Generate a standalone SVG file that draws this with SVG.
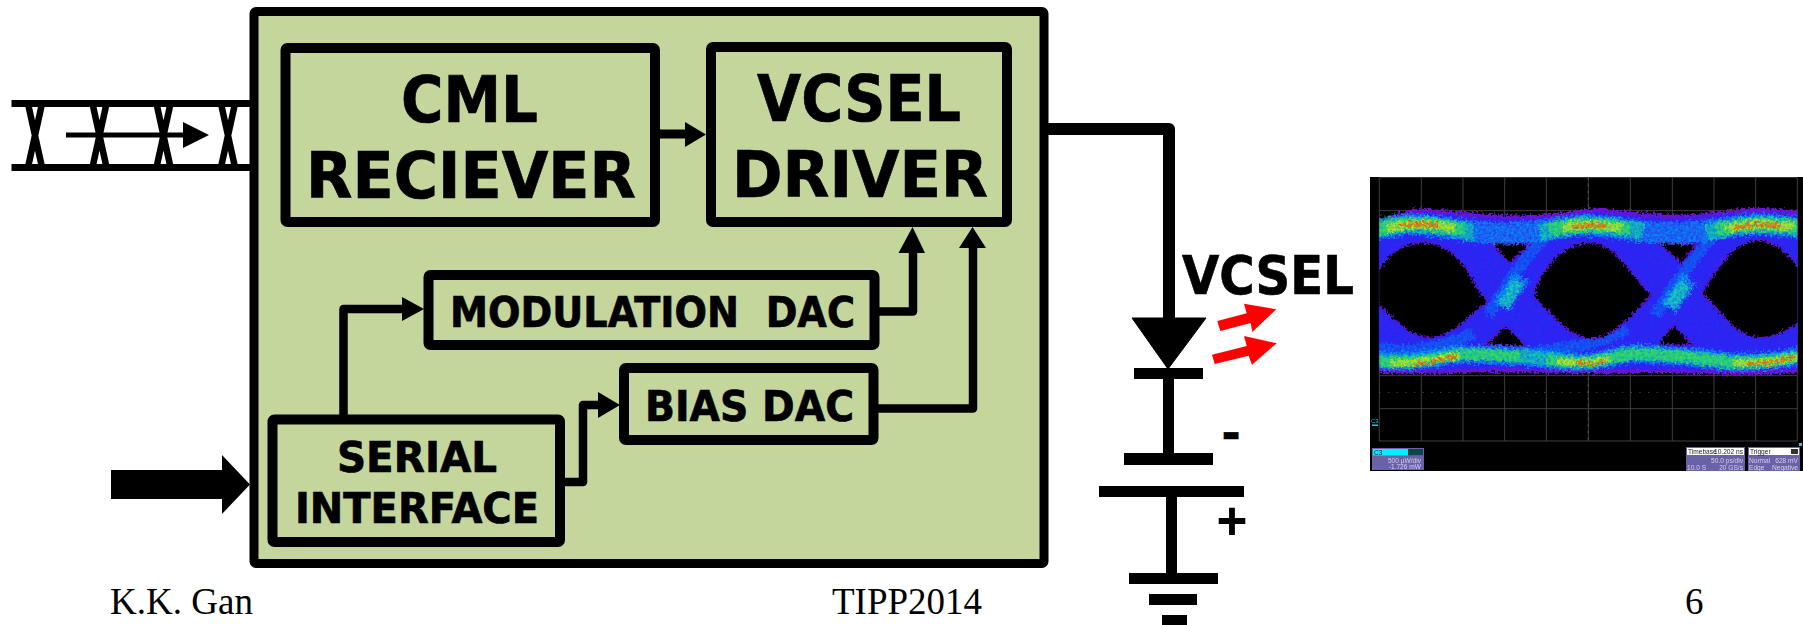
<svg xmlns="http://www.w3.org/2000/svg" width="1803" height="625" viewBox="0 0 1803 625">
<style>
.box{fill:#c4d69c;stroke:#000;stroke-linejoin:round}
.in{fill:none;stroke:#000;stroke-linejoin:round}
.lab{font-family:"DejaVu Sans",Verdana,sans-serif;font-weight:700;fill:#000;stroke:#000;stroke-width:.7px;white-space:pre}
.foot{font-family:"Liberation Serif","Times New Roman",serif;font-size:37px;fill:#000}
.bk{fill:#000}
.grid{stroke:#3e3e3e;fill:none}
.sc{font-family:"Liberation Sans",Arial,sans-serif;font-size:6.6px;fill:#d4d0ee}
.scd{font-family:"Liberation Sans",Arial,sans-serif;font-size:6.6px;fill:#222}
.panel{fill:#6a62a6}
.band{fill:none}
</style>
<defs>
<filter id="sp1" filterUnits="userSpaceOnUse" x="0" y="0" width="1400" height="700" color-interpolation-filters="sRGB">
<feTurbulence type="fractalNoise" baseFrequency=".11" numOctaves="2" seed="4" result="n"/>
<feDisplacementMap in="SourceGraphic" in2="n" scale="34" xChannelSelector="R" yChannelSelector="G" result="d"/>
<feColorMatrix in="n" type="matrix" values="0 0 0 0 0 0 0 0 0 0 0 0 0 0 0 0 0 0 0 0 12 0 0 0 -5.2" result="m"/>
<feComposite in="d" in2="m" operator="in"/>
<feGaussianBlur stdDeviation="1.8"/>
</filter>
<filter id="sp2" filterUnits="userSpaceOnUse" x="0" y="0" width="1400" height="700" color-interpolation-filters="sRGB">
<feTurbulence type="fractalNoise" baseFrequency=".13" numOctaves="2" seed="17" result="n"/>
<feDisplacementMap in="SourceGraphic" in2="n" scale="34" xChannelSelector="G" yChannelSelector="R" result="d"/>
<feColorMatrix in="n" type="matrix" values="0 0 0 0 0 0 0 0 0 0 0 0 0 0 0 0 0 0 0 0 12 0 0 0 -5.4" result="m"/>
<feComposite in="d" in2="m" operator="in"/>
<feGaussianBlur stdDeviation="1.8"/>
</filter>
<filter id="sp3" filterUnits="userSpaceOnUse" x="0" y="0" width="1400" height="700" color-interpolation-filters="sRGB">
<feTurbulence type="fractalNoise" baseFrequency=".12" numOctaves="2" seed="31" result="n"/>
<feDisplacementMap in="SourceGraphic" in2="n" scale="30" xChannelSelector="R" yChannelSelector="B" result="d"/>
<feColorMatrix in="n" type="matrix" values="0 0 0 0 0 0 0 0 0 0 0 0 0 0 0 0 0 0 0 0 12 0 0 0 -5.6" result="m"/>
<feComposite in="d" in2="m" operator="in"/>
<feGaussianBlur stdDeviation="1.8"/>
</filter>
<filter id="rough" filterUnits="userSpaceOnUse" x="0" y="0" width="1400" height="700" color-interpolation-filters="sRGB">
<feTurbulence type="fractalNoise" baseFrequency=".14" numOctaves="2" seed="9" result="n"/>
<feDisplacementMap in="SourceGraphic" in2="n" scale="26" xChannelSelector="R" yChannelSelector="G"/>
<feGaussianBlur stdDeviation="1.6"/>
</filter>
<filter id="soft" x="-5%" y="-5%" width="110%" height="110%"><feGaussianBlur stdDeviation=".45"/></filter>
<clipPath id="eyeclip"><rect x="58" y="38" width="1254" height="790"/></clipPath>
</defs>

<g id="data-input">
<path class="bk" d="M11.500 100H250V107H11.500ZM11.500 164H250V171H11.500Z"/>
<path class="in" stroke-width="6.500" d="M28.500 106L41.500 165M41.500 106L28.500 165M93 106L106 165M106 106L93 165M157 106L170 165M170 106L157 165M221.500 106L234.500 165M234.500 106L221.500 165"/>
<path class="bk" d="M66 132.500H183V122L209 135L183 148V137.500H66Z"/>
</g>

<g id="serial-input"><path class="bk" d="M111 470H222V455L250 484.500L222 514V499H111Z"/></g>

<g id="chip"><rect class="box" x="254" y="11.500" width="790" height="552" rx="2" stroke-width="9"/></g>

<g id="connectors">
<path class="in" stroke-width="9" d="M660 134H688"/><path class="bk" d="M685 122L706 134.500L685 147Z"/>
<path class="in" stroke-width="8.500" d="M343.500 416V309H404"/><path class="bk" d="M402 297L424 309L402 321Z"/>
<path class="in" stroke-width="8.500" d="M565 482H583V405H600"/><path class="bk" d="M598 392L620 405L598 418Z"/>
<path class="in" stroke-width="8.500" d="M879 311.500H913V250"/><path class="bk" d="M898.500 253L912.500 227L925 253Z"/>
<path class="in" stroke-width="8.500" d="M878 408.500H973V245"/><path class="bk" d="M959 248L972.500 227L986 248Z"/>
<path class="in" stroke-width="12" d="M1048 129H1169V320"/>
<path class="bk" d="M1163 376H1174V455H1163ZM1166 495H1177V575H1166Z"/>
</g>

<g id="cml-receiver">
<rect class="box" x="285.500" y="48" width="369.500" height="174" rx="2" stroke-width="10"/>
<text class="lab" x="401" y="122" font-size="64" textLength="137" lengthAdjust="spacingAndGlyphs">CML</text>
<text class="lab" x="306" y="198" font-size="64" textLength="330" lengthAdjust="spacingAndGlyphs">RECIEVER</text>
</g>
<g id="vcsel-driver">
<rect class="box" x="711" y="47" width="296" height="175" rx="2" stroke-width="10"/>
<text class="lab" x="757" y="121" font-size="64" textLength="204" lengthAdjust="spacingAndGlyphs">VCSEL</text>
<text class="lab" x="732" y="197" font-size="64" textLength="256" lengthAdjust="spacingAndGlyphs">DRIVER</text>
</g>
<g id="modulation-dac">
<rect class="box" x="428.500" y="275" width="446" height="70" rx="2" stroke-width="10"/>
<text class="lab" x="450" y="327" font-size="43" textLength="405" lengthAdjust="spacingAndGlyphs">MODULATION  DAC</text>
</g>
<g id="bias-dac">
<rect class="box" x="624" y="368" width="249.500" height="72" rx="2" stroke-width="10"/>
<text class="lab" x="645" y="421" font-size="43" textLength="209" lengthAdjust="spacingAndGlyphs">BIAS DAC</text>
</g>
<g id="serial-interface">
<rect class="box" x="272.500" y="419.500" width="287.500" height="122.500" rx="2" stroke-width="10"/>
<text class="lab" x="337" y="472" font-size="42" textLength="160" lengthAdjust="spacingAndGlyphs">SERIAL</text>
<text class="lab" x="295" y="523" font-size="42" textLength="244" lengthAdjust="spacingAndGlyphs">INTERFACE</text>
</g>

<g id="vcsel">
<path class="bk" d="M1132 318H1206L1168 369Z" stroke="#000" stroke-width="1" stroke-linejoin="round"/>
<rect class="bk" x="1134" y="368" width="69" height="11"/>
<text class="lab" x="1182" y="294" font-size="54" textLength="172" lengthAdjust="spacingAndGlyphs">VCSEL</text>
<path fill="#f00" d="M1217.300 321L1220.300 331L1250.700 323L1252.300 332L1276.300 309.300L1244 303.700L1246.700 313.300Z"/>
<path fill="#f00" d="M1212 354.700L1214.700 364L1248.700 355.700L1252 364.700L1276.700 343.300L1244 336L1246.700 346Z"/>
</g>
<g id="battery">
<rect class="bk" x="1124" y="453" width="89" height="12"/>
<rect class="bk" x="1099" y="486" width="145" height="11"/>
<text class="lab" x="1221.500" y="449" font-size="46">-</text>
<text x="1232" y="539" font-family="Liberation Sans,Arial,sans-serif" font-weight="700" font-size="53" text-anchor="middle">+</text>
</g>
<g id="ground">
<rect class="bk" x="1129" y="573" width="89" height="11"/>
<rect class="bk" x="1149" y="594" width="48" height="11"/>
<rect class="bk" x="1162" y="615" width="25" height="10"/>
</g>

<g id="eye-diagram">
<rect x="1370" y="177" width="433" height="294" fill="#000"/>
<g transform="translate(1360 165) scale(.33333)">
<path class="grid" stroke-width="3" d="M58 38H1312V828H58ZM184 38V828M309 38V828M434 38V828M559 38V828M685 38V828M811 38V828M937 38V828M1062 38V828M1187 38V828M58 137H1312M58 236H1312M58 335H1312M58 434H1312M58 533H1312M58 632H1312M58 731H1312"/>
<path d="M685 38V828" stroke="#5c5c5c" stroke-width="3" stroke-dasharray="6 14"/>
<path d="M58 682H1312" stroke="#4a4a4a" stroke-width="3" stroke-dasharray="4 22"/>
<g clip-path="url(#eyeclip)">
<path filter="url(#rough)" fill="#6a12d8" d="M40 175C110 150 150 128 185 130C260 135 330 145 400 148C480 155 600 150 680 130C760 130 860 148 940 148C1030 150 1120 130 1190 128C1250 130 1290 135 1330 140V620C1260 630 1150 632 1000 626C850 620 700 632 500 622C300 620 180 634 40 620Z"/>
<path filter="url(#sp1)" fill="#1424f4" d="M40 185C110 160 150 142 185 142C260 148 330 158 400 162C480 166 600 162 680 142C760 142 860 162 940 162C1030 162 1120 142 1190 142C1250 142 1290 148 1330 152V608C1260 618 1150 620 1000 614C850 608 700 620 500 610C300 608 180 622 40 608Z"/>
<path filter="url(#sp2)" fill="#1830ff" d="M40 185C110 160 150 142 185 142C260 148 330 158 400 162C480 166 600 162 680 142C760 142 860 162 940 162C1030 162 1120 142 1190 142C1250 142 1290 148 1330 152V608C1260 618 1150 620 1000 614C850 608 700 620 500 610C300 608 180 622 40 608Z"/>
<g filter="url(#sp3)" fill="none" stroke="#0078f0">
<path stroke-width="36" d="M385 450C430 380 480 290 555 215M885 450C930 380 990 290 1055 215"/>
<path stroke-width="36" d="M520 565C600 545 700 550 800 490M40 545C100 565 230 560 340 505"/>
</g>
<g filter="url(#rough)" fill="#000" stroke="#5a10c8" stroke-width="5">
<path d="M40 335C70 290 110 232 190 232C260 232 310 290 330 330C350 370 370 395 385 410C340 435 290 515 210 518C150 520 110 470 40 405Z"/>
<path d="M525 370C560 290 620 232 690 232C760 232 800 310 875 392C830 430 770 520 695 522C630 522 590 460 525 400Z"/>
<path d="M1025 385C1060 330 1110 232 1190 225C1250 225 1290 270 1330 325V465C1280 500 1240 520 1195 518C1130 515 1090 450 1025 385Z"/>
<path d="M392 232L510 236L450 295Z"/>
<path d="M435 482L378 540L500 545Z"/>
<path d="M892 232L1010 236L965 295Z"/>
<path d="M940 480L895 540L1000 540Z"/>
</g>
<g filter="url(#sp2)" class="band" stroke="#00a8f0">
<path stroke-width="66" d="M40 195C100 180 140 175 190 178C280 190 340 205 430 205C530 205 600 180 690 180C780 185 850 205 940 205C1040 205 1100 180 1190 178C1250 180 1290 185 1330 190"/>
<path stroke-width="56" d="M40 585C100 595 180 590 280 570C330 565 420 570 500 575C580 585 640 595 700 590C750 580 790 565 830 565C900 570 1000 575 1100 590C1180 595 1250 590 1330 570"/>
</g>
<g filter="url(#sp3)" class="band" stroke="#10e890">
<path stroke-width="50" d="M40 195C100 180 140 175 190 178C260 185 300 195 340 200M540 205C600 185 640 180 690 180C750 183 800 192 850 198M1040 205C1100 185 1140 180 1190 178C1250 180 1290 185 1330 190"/>
<path stroke-width="40" d="M40 585C100 595 180 590 280 570C330 565 420 570 500 575C580 585 640 595 700 590C750 580 790 565 830 565C900 570 1000 575 1100 590C1180 595 1250 590 1330 570"/>
</g>
<g filter="url(#sp1)" class="band" stroke="#40f030">
<path stroke-width="40" d="M50 195C100 180 140 175 190 178C250 183 280 190 310 194M570 196C620 183 650 180 690 180C745 182 780 188 810 192M1070 196C1110 183 1150 180 1190 178C1240 178 1280 182 1330 188"/>
<path stroke-width="30" d="M50 588C120 597 180 590 300 570C350 567 420 570 480 575M560 582C600 592 650 594 700 590C750 580 780 568 860 566C960 572 1020 580 1100 590C1180 597 1250 590 1330 572"/>
</g>
<g filter="url(#sp2)" class="band" stroke="#f8e800">
<path stroke-width="26" d="M80 190C120 180 150 177 190 178C225 181 255 184 285 189M610 187C640 182 660 180 690 180C725 181 755 184 785 189M1100 190C1130 184 1160 180 1190 178C1220 178 1260 180 1300 184"/>
<path stroke-width="20" d="M90 592C150 598 220 585 300 570M590 588C640 594 690 596 750 582M1120 592C1190 598 1250 590 1320 575"/>
</g>
<g filter="url(#sp1)" class="band" stroke="#ff3000">
<path stroke-width="14" d="M120 184C150 178 190 175 235 181M640 186C670 180 700 178 740 183M1120 190C1160 178 1200 176 1260 181"/>
<path stroke-width="10" d="M160 600C210 594 250 585 290 572M650 594C680 598 710 596 740 590M1160 598C1210 596 1250 590 1300 578"/>
</g>
<g filter="url(#sp2)" fill="none" stroke="#00b0e8">
<path stroke-width="54" d="M425 425C440 400 465 365 485 335M925 430C945 400 970 365 990 340"/>
</g>
<g filter="url(#sp3)" fill="none" stroke="#18f0a0">
<path stroke-width="36" d="M430 425C445 400 462 372 475 350M930 425C945 402 965 375 980 355"/>
</g>
</g>
</g>
<g filter="url(#soft)">
<text x="1371" y="423" font-family="Liberation Sans,Arial,sans-serif" font-size="6" fill="#10c8d0">C3</text>
<rect x="1372" y="424.500" width="6" height="1.500" fill="#10d8e0"/>
<rect x="1799" y="443" width="3" height="3" fill="#10d8e0"/>
<rect class="panel" x="1372" y="448" width="52" height="22"/>
<rect x="1373" y="449" width="50" height="6.500" fill="#00f0ff"/>
<rect x="1408" y="449" width="15" height="6.500" fill="#0c4448"/>
<text class="scd" x="1374" y="454.500">C3</text>
<text class="sc" x="1421" y="462.500" text-anchor="end">500 µW/div</text>
<text class="sc" x="1421" y="469" text-anchor="end">-1.726 mW</text>
<rect class="panel" x="1686" y="447" width="59" height="24"/>
<rect x="1687" y="448" width="57" height="7" fill="#fff"/>
<text class="scd" x="1688" y="454">Timebase</text>
<text class="scd" x="1743" y="454" text-anchor="end">10.202 ns</text>
<text class="sc" x="1743" y="462.500" text-anchor="end">50.0 ps/div</text>
<text class="sc" x="1687" y="469.500">10.0 S</text>
<text class="sc" x="1743" y="469.500" text-anchor="end">20 GS/s</text>
<rect class="panel" x="1748" y="447" width="52" height="24"/>
<rect x="1749" y="448" width="50" height="7" fill="#fff"/>
<rect x="1791" y="449" width="7" height="5" fill="#333"/>
<text class="scd" x="1750" y="454">Trigger</text>
<text class="sc" x="1749" y="462.500">Normal</text>
<text class="sc" x="1798" y="462.500" text-anchor="end">628 mV</text>
<text class="sc" x="1749" y="469.500">Edge</text>
<text class="sc" x="1798" y="469.500" text-anchor="end">Negative</text>
</g>
</g>

<g id="footer">
<text class="foot" x="110" y="614" textLength="143" lengthAdjust="spacingAndGlyphs">K.K. Gan</text>
<text class="foot" x="832" y="614" textLength="150" lengthAdjust="spacingAndGlyphs">TIPP2014</text>
<text class="foot" x="1685" y="614">6</text>
</g>
</svg>
